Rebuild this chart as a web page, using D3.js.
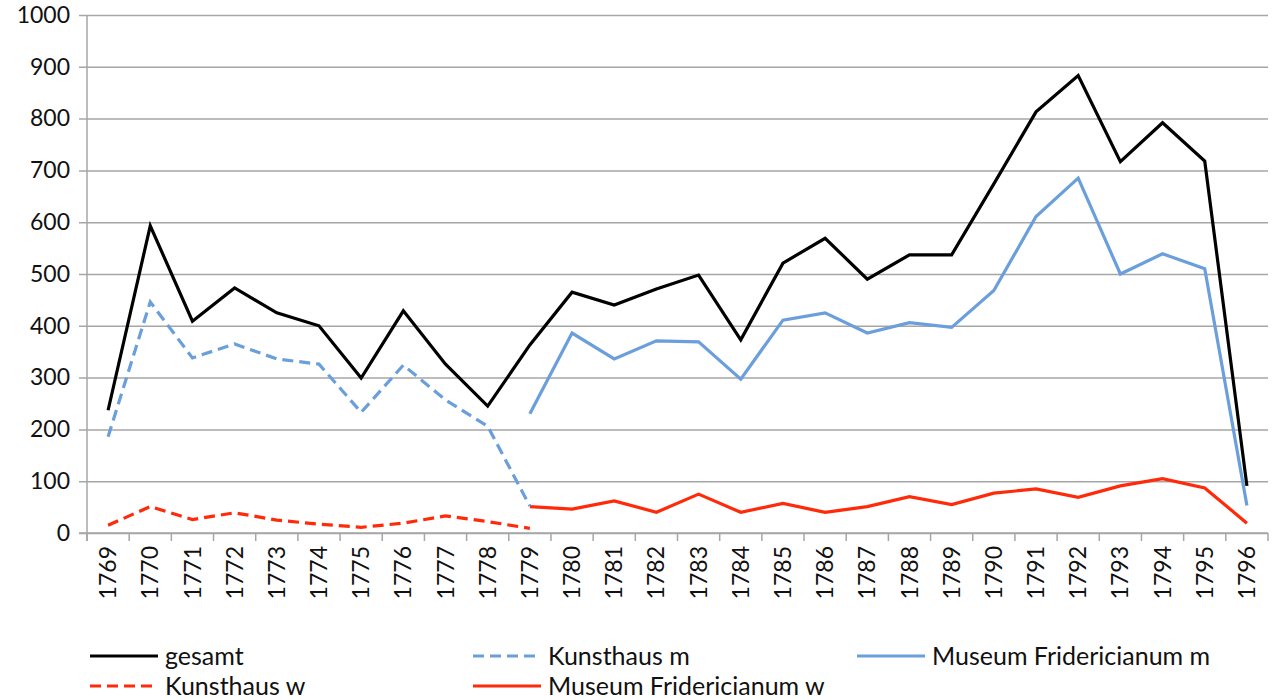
<!DOCTYPE html>
<html>
<head>
<meta charset="utf-8">
<script src="https://cdn.jsdelivr.net/npm/d3@7"></script>
<style>
  body { margin: 0; background: #fff; }
  svg text { font-family: Lato, "Open Sans", sans-serif; fill: #111; }
</style>
</head>
<body>
<svg width="1272" height="700"></svg>
<script>
const years = d3.range(1769, 1797).map(String);
const yTicks = [0, 100, 200, 300, 400, 500, 600, 700, 800, 900, 1000];

// values, null = no data that year
const gesamt = [237, 593, 409, 473, 425, 400, 299, 429, 326, 245, 363, 465, 440, 471, 498, 373, 521, 569, 490, 537, 537, 674, 813, 883, 717, 792, 718, 91];
const kunsthausM = [186, 446, 338, 365, 336, 326, 233, 324, 257, 206, 52, null, null, null, null, null, null, null, null, null, null, null, null, null, null, null, null, null];
const museumM = [null, null, null, null, null, null, null, null, null, null, 230, 386, 336, 371, 369, 297, 411, 425, 386, 406, 397, 468, 611, 685, 500, 539, 510, 53];
const kunsthausW = [15, 51, 26, 39, 25, 17, 11, 19, 33, 22, 9, null, null, null, null, null, null, null, null, null, null, null, null, null, null, null, null, null];
const museumW = [null, null, null, null, null, null, null, null, null, null, 51, 46, 62, 40, 75, 40, 57, 40, 51, 70, 55, 77, 85, 69, 91, 105, 87, 19];

const series = [
  { name: 'gesamt', values: gesamt, color: '#000000', dash: null },
  { name: 'Kunsthaus m', values: kunsthausM, color: '#6a9fdb', dash: '11,6' },
  { name: 'Museum Fridericianum m', values: museumM, color: '#6a9fdb', dash: null },
  { name: 'Kunsthaus w', values: kunsthausW, color: '#ff2a0a', dash: '11,6' },
  { name: 'Museum Fridericianum w', values: museumW, color: '#ff2a0a', dash: null }
];

const margin = { top: 15, right: 4, bottom: 167, left: 87 };
const width = 1272;
const height = 700;
const svg = d3.select('svg');

const x = d3.scaleBand()
  .domain(years)
  .range([margin.left, width - margin.right]);

const y = d3.scaleLinear()
  .domain([0, 1000])
  .range([height - margin.bottom, margin.top]);

// gridlines + y axis
svg.append('g')
  .attr('transform', `translate(${margin.left},0)`)
  .call(d3.axisLeft(y).tickValues(yTicks).tickFormat(d3.format('d'))
    .tickSize(-(width - margin.left - margin.right)).tickPadding(17))
  .call(g => g.select('.domain').remove())
  .call(g => g.selectAll('.tick line').attr('stroke', '#a6a6a6').attr('stroke-width', 1.5).attr('x1', -8))
  .call(g => g.selectAll('.tick text').style('font-size', '23px'));

// x axis
const xAxis = svg.append('g')
  .attr('transform', `translate(0,${y(0)})`)
  .call(d3.axisBottom(x).tickSize(0).tickPadding(12));
xAxis.select('.domain').remove();
xAxis.selectAll('.tick text')
  .style('font-size', '23px')
  .attr('text-anchor', 'end')
  .attr('transform', 'rotate(-90)')
  .attr('x', -13)
  .attr('y', 0)
  .attr('dy', '0.35em');

// category boundary ticks
const bounds = years.map(d => x(d)).concat([x(years[years.length - 1]) + x.bandwidth()]);
svg.append('g')
  .selectAll('line')
  .data(bounds)
  .enter()
  .append('line')
  .attr('x1', d => d)
  .attr('x2', d => d)
  .attr('y1', y(0))
  .attr('y2', y(0) + 8)
  .attr('stroke', '#a6a6a6')
  .attr('stroke-width', 1.5);

// axis lines
svg.append('line')
  .attr('x1', margin.left).attr('x2', margin.left)
  .attr('y1', y(1000)).attr('y2', y(0) + 8)
  .attr('stroke', '#a6a6a6').attr('stroke-width', 1.5);
svg.append('line')
  .attr('x1', margin.left - 8).attr('x2', width - margin.right)
  .attr('y1', y(0)).attr('y2', y(0))
  .attr('stroke', '#a6a6a6').attr('stroke-width', 1.5);

const line = d3.line()
  .defined(d => d.v !== null)
  .x(d => x(d.year) + x.bandwidth() / 2)
  .y(d => y(d.v));

const drawOrder = [3, 4, 1, 2, 0];
drawOrder.forEach(function (i) {
  const s = series[i];
  svg.append('path')
    .datum(years.map((yr, j) => ({ year: yr, v: s.values[j] })))
    .attr('fill', 'none')
    .attr('stroke', s.color)
    .attr('stroke-width', 3.2)
    .attr('stroke-linejoin', 'miter')
    .attr('stroke-dasharray', s.dash)
    .attr('d', line);
});

// legend
const legendPos = [
  { x: 90, y: 656 },
  { x: 473, y: 656 },
  { x: 857, y: 656 },
  { x: 90, y: 686 },
  { x: 473, y: 686 }
];
const legend = svg.append('g')
  .selectAll('g')
  .data(series)
  .enter()
  .append('g')
  .attr('transform', (d, i) => `translate(${legendPos[i].x},${legendPos[i].y})`);

legend.append('line')
  .attr('x1', 0).attr('x2', 68)
  .attr('stroke', d => d.color)
  .attr('stroke-width', 3.2)
  .attr('stroke-dasharray', d => d.dash);

legend.append('text')
  .attr('x', 75)
  .attr('dy', '0.35em')
  .style('font-size', '25px')
  .text(d => d.name);
</script>
</body>
</html>
